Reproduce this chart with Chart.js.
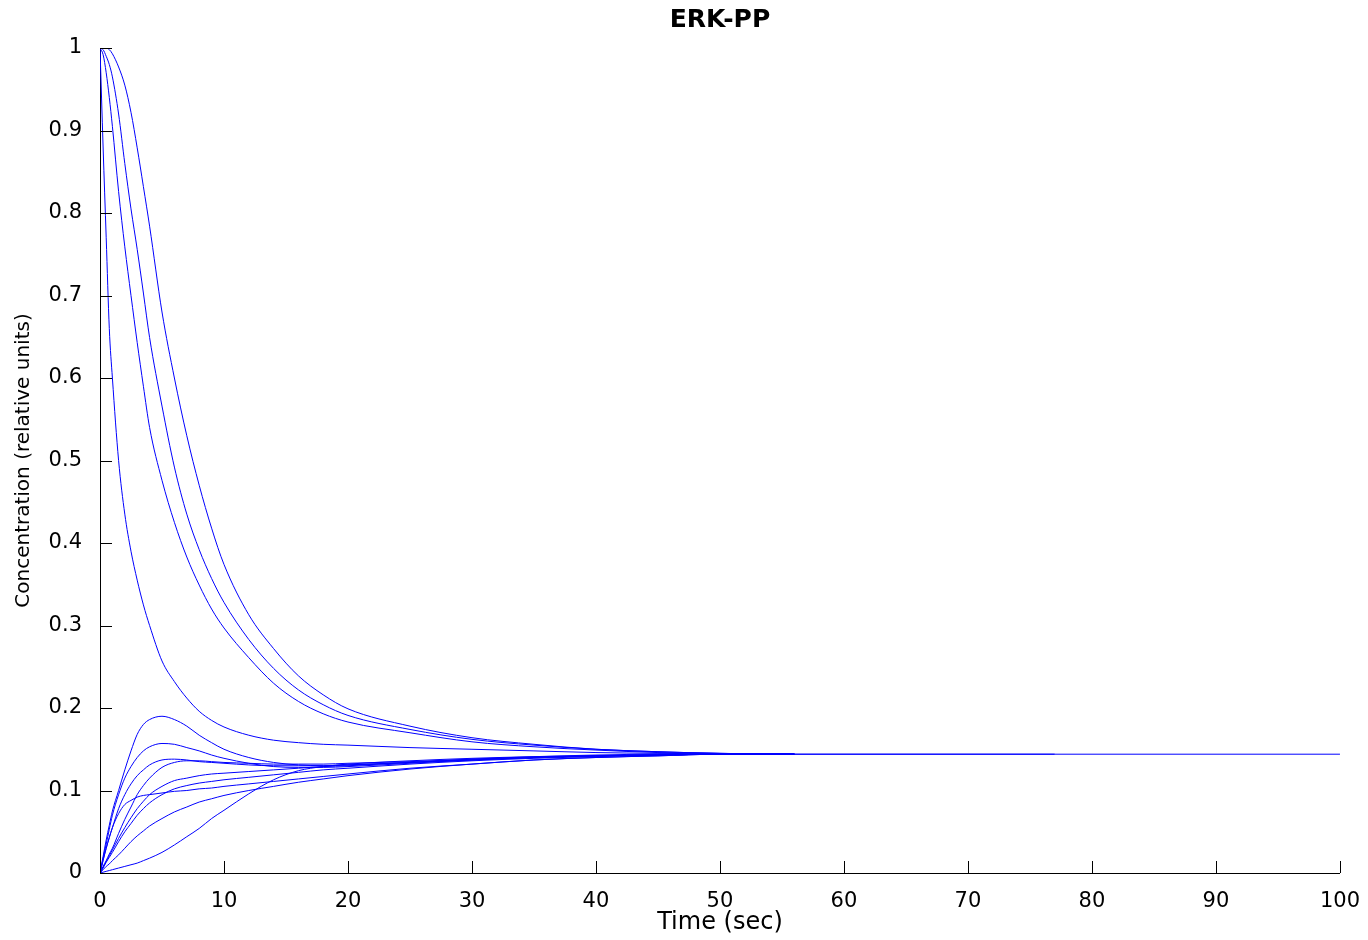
<!DOCTYPE html>
<html>
<head>
<meta charset="utf-8">
<title>ERK-PP</title>
<script src="https://cdn.jsdelivr.net/npm/chart.js@4.4.1/dist/chart.umd.min.js"></script>
<style>
  html, body { margin: 0; padding: 0; background: #fff; }
  #wrap { width: 1368px; height: 940px; position: relative; }
</style>
</head>
<body>
<div id="wrap"><canvas id="erkChart"></canvas></div>
<script>
// Time points (sec) shared by all traces; a trace stops where its array ends
const timeGrid = [0, 0.25, 0.5, 0.75, 1, 1.5, 2, 2.5, 3, 3.5, 4, 5, 6, 7, 8, 9, 10,
  12, 14, 16, 18, 20, 25, 30, 35, 40, 45, 50, 56, 77, 100];

// Traces that start at full concentration and decay
const decay1 = [1, 0.88, 0.77, 0.66, 0.6, 0.5, 0.435, 0.39, 0.355, 0.325, 0.3, 0.257, 0.232, 0.212, 0.196, 0.185, 0.177,
  0.167, 0.161, 0.158, 0.156, 0.155, 0.152, 0.15, 0.148, 0.146, 0.145, 0.1445, 0.144, 0.144, 0.144];
const decay2 = [1, 0.992, 0.97, 0.94, 0.905, 0.826, 0.759, 0.7, 0.643, 0.59, 0.54, 0.476, 0.425, 0.383, 0.349, 0.32, 0.297,
  0.261, 0.23, 0.208, 0.193, 0.183, 0.17, 0.159, 0.153, 0.149, 0.146, 0.145, 0.144];
const decay3 = [1, 0.998, 0.99, 0.98, 0.965, 0.92, 0.86, 0.805, 0.756, 0.703, 0.649, 0.566, 0.492, 0.435, 0.392, 0.357, 0.328,
  0.283, 0.248, 0.222, 0.204, 0.191, 0.174, 0.162, 0.155, 0.15, 0.147, 0.145, 0.144];
const decay4 = [1, 1, 1, 0.998, 0.993, 0.977, 0.955, 0.922, 0.879, 0.832, 0.784, 0.68, 0.6, 0.53, 0.47, 0.418, 0.374,
  0.313, 0.272, 0.239, 0.216, 0.199, 0.178, 0.164, 0.156, 0.15, 0.147, 0.145, 0.144];

// Traces that start at zero and rise
const rise1 = [0, 0.02, 0.04, 0.058, 0.075, 0.1, 0.125, 0.148, 0.168, 0.18, 0.186, 0.19, 0.186, 0.178, 0.167, 0.158, 0.15,
  0.14, 0.134, 0.131, 0.13, 0.131, 0.134, 0.138, 0.141, 0.143, 0.144, 0.144, 0.144];
const rise2 = [0, 0.018, 0.035, 0.053, 0.07, 0.095, 0.115, 0.129, 0.14, 0.148, 0.153, 0.157, 0.156, 0.152, 0.148, 0.143, 0.139,
  0.133, 0.129, 0.128, 0.128, 0.129, 0.133, 0.137, 0.14, 0.142, 0.143, 0.144, 0.144];
const rise3 = [0, 0.015, 0.03, 0.043, 0.055, 0.078, 0.095, 0.108, 0.118, 0.125, 0.131, 0.137, 0.138, 0.137, 0.135, 0.134, 0.133,
  0.131, 0.13, 0.13, 0.13, 0.131, 0.134, 0.137, 0.14, 0.142, 0.143, 0.144, 0.144];
const rise4 = [0, 0.008, 0.015, 0.023, 0.03, 0.048, 0.065, 0.08, 0.095, 0.106, 0.115, 0.128, 0.134, 0.136, 0.136, 0.135, 0.134,
  0.133, 0.132, 0.132, 0.132, 0.133, 0.135, 0.138, 0.14, 0.142, 0.143, 0.144, 0.144];
const rise5 = [0, 0.007, 0.014, 0.021, 0.028, 0.042, 0.055, 0.067, 0.078, 0.087, 0.095, 0.105, 0.112, 0.115, 0.118, 0.12, 0.121,
  0.123, 0.125, 0.127, 0.129, 0.13, 0.134, 0.137, 0.14, 0.142, 0.143, 0.144, 0.144];
const rise6 = [0, 0.006, 0.013, 0.019, 0.025, 0.038, 0.05, 0.06, 0.07, 0.078, 0.085, 0.095, 0.102, 0.106, 0.109, 0.111, 0.113,
  0.116, 0.119, 0.122, 0.125, 0.127, 0.132, 0.136, 0.139, 0.141, 0.143, 0.144, 0.144];
const rise7 = [0, 0.016, 0.03, 0.043, 0.055, 0.072, 0.083, 0.088, 0.092, 0.094, 0.095, 0.097, 0.099, 0.1, 0.102, 0.103, 0.105,
  0.108, 0.111, 0.114, 0.117, 0.12, 0.127, 0.132, 0.137, 0.14, 0.142, 0.144, 0.144];
const rise8 = [0, 0.004, 0.008, 0.011, 0.015, 0.022, 0.03, 0.038, 0.045, 0.051, 0.057, 0.066, 0.074, 0.08, 0.086, 0.09, 0.094,
  0.1, 0.105, 0.11, 0.114, 0.118, 0.126, 0.132, 0.137, 0.14, 0.142, 0.144, 0.144];
const rise9 = [0, 0.001, 0.002, 0.003, 0.004, 0.006, 0.008, 0.01, 0.012, 0.015, 0.018, 0.025, 0.034, 0.044, 0.054, 0.066, 0.076,
  0.096, 0.113, 0.124, 0.129, 0.132, 0.136, 0.139, 0.141, 0.142, 0.143, 0.144, 0.144, 0.144];

const seriesList = [decay1, decay2, decay3, decay4, rise1, rise2, rise3, rise4, rise5, rise6, rise7, rise8, rise9];

const xTicks = [0, 10, 20, 30, 40, 50, 60, 70, 80, 90, 100];
const yTicks = [0, 0.1, 0.2, 0.3, 0.4, 0.5, 0.6, 0.7, 0.8, 0.9, 1];

const labelFont = "'DejaVu Sans', 'Liberation Sans', sans-serif";

// MATLAB style tick marks pointing into the plot
const inwardTicks = {
  id: "inwardTicks",
  afterDraw(chart) {
    const { ctx, chartArea, scales } = chart;
    const len = 12;
    ctx.save();
    ctx.strokeStyle = "#000";
    ctx.lineWidth = 1;
    ctx.beginPath();
    xTicks.forEach(function (v) {
      const px = Math.round(scales.x.getPixelForValue(v)) + 0.5;
      ctx.moveTo(px, chartArea.bottom);
      ctx.lineTo(px, chartArea.bottom - len);
    });
    yTicks.forEach(function (v) {
      const py = Math.round(scales.y.getPixelForValue(v)) + 0.5;
      ctx.moveTo(chartArea.left, py);
      ctx.lineTo(chartArea.left + len, py);
    });
    ctx.stroke();
    ctx.restore();
  },
};

const datasets = seriesList.map(function (vals, i) {
  return {
    label: "trace " + (i + 1),
    data: vals.map(function (v, j) { return { x: timeGrid[j], y: v }; }),
    borderColor: "#0000ff",
    borderWidth: 1,
    pointRadius: 0,
    fill: false,
    cubicInterpolationMode: "monotone",
  };
});

new Chart(document.getElementById("erkChart"), {
  type: "line",
  data: { datasets: datasets },
  plugins: [inwardTicks],
  options: {
    responsive: true,
    maintainAspectRatio: false,
    animation: false,
    layout: { padding: { right: 28, left: 0, top: 0, bottom: 0 } },
    plugins: {
      legend: { display: false },
      tooltip: { enabled: false },
      title: {
        display: true,
        text: "ERK-PP",
        fullSize: false,
        color: "#000",
        font: { family: labelFont, size: 25, weight: "bold" },
        padding: { top: 5, bottom: 13 },
      },
    },
    scales: {
      x: {
        type: "linear",
        min: 0,
        max: 100,
        grid: { display: false },
        border: { display: true, color: "#000", width: 1 },
        afterFit: function (scale) { scale.height = 67; },
        afterBuildTicks: function (scale) {
          scale.ticks = xTicks.map(function (v) { return { value: v }; });
        },
        ticks: {
          color: "#000",
          padding: 8,
          maxRotation: 0,
          font: { family: labelFont, size: 21 },
        },
        title: {
          display: true,
          text: "Time (sec)",
          color: "#000",
          font: { family: labelFont, size: 24 },
          padding: { top: 0, bottom: 3 },
        },
      },
      y: {
        type: "linear",
        min: 0,
        max: 1,
        grid: { display: false },
        border: { display: true, color: "#000", width: 1 },
        afterFit: function (scale) { scale.width = 100; },
        afterBuildTicks: function (scale) {
          scale.ticks = yTicks.map(function (v) { return { value: v }; });
        },
        ticks: {
          color: "#000",
          padding: 10,
          font: { family: labelFont, size: 21 },
          callback: function (v) { return String(+v.toFixed(1)); },
        },
        title: {
          display: true,
          text: "Concentration (relative units)",
          color: "#000",
          font: { family: labelFont, size: 20 },
          padding: { top: 12, bottom: 0 },
        },
      },
    },
  },
});
</script>
</body>
</html>
